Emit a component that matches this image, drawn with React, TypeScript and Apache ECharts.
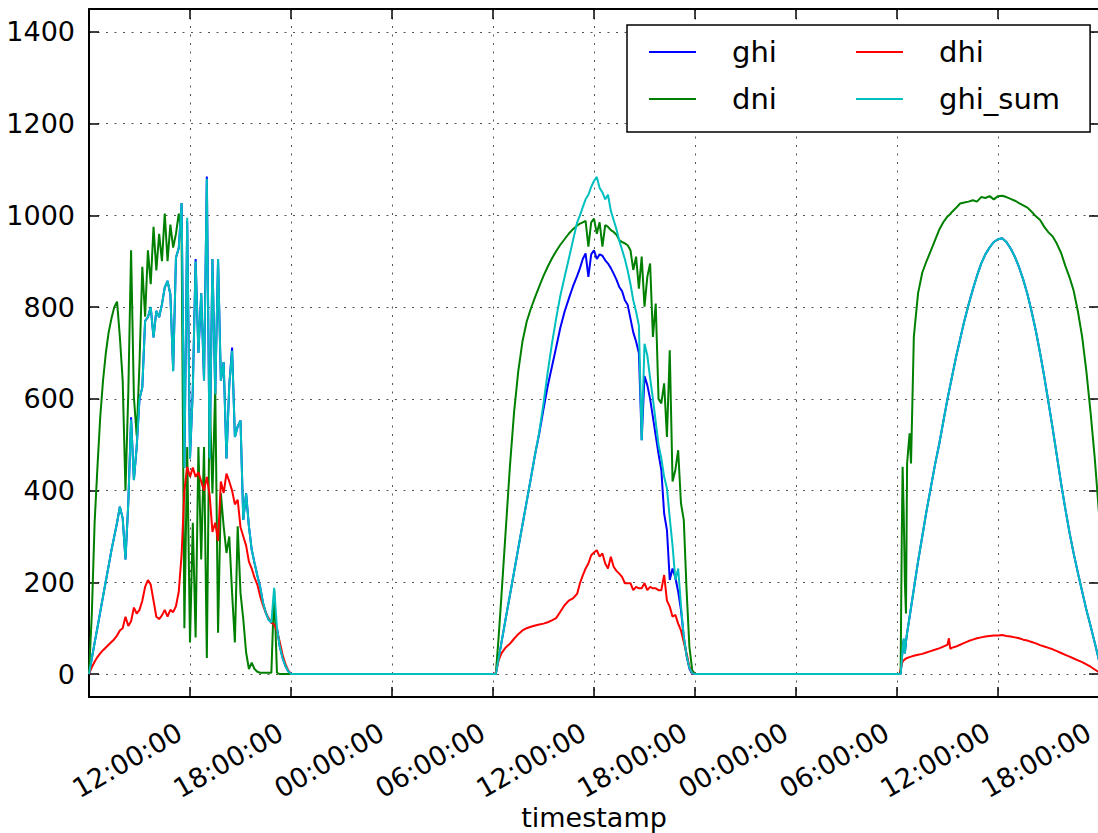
import React, { useEffect, useRef } from "react";
import * as echarts from "echarts";

// ---------- data (three consecutive days; times are local clock times) ----------
const day1Times = [
  "06:00","06:10","06:20","06:30","06:40","06:50",
  "07:00","07:10","07:20","07:30","07:40","07:50",
  "08:00","08:10","08:20","08:30","08:40","08:50",
  "09:00","09:10","09:20","09:30","09:40","09:50",
  "10:00","10:10","10:20","10:30","10:40","10:50",
  "11:00","11:10","11:20","11:30","11:40","11:50",
  "12:00","12:10","12:20","12:30","12:40","12:50",
  "13:00","13:10","13:20","13:30","13:40","13:50",
  "14:00","14:10","14:20","14:30","14:40","14:50",
  "15:00","15:10","15:20","15:30","15:40","15:50",
  "16:00","16:10","16:20","16:30","16:40","16:50",
  "17:00","17:10","17:20","17:30","17:40","17:50",
  "18:00","18:10",
];
const day1Ghi = [
  0, 34, 68, 101, 135, 169,
  203, 236, 270, 300, 330, 365,
  340, 250, 372, 560, 423, 495,
  600, 625, 770, 778, 800, 734,
  792, 778, 806, 843, 857, 828,
  662, 908, 929, 1027, 450, 987,
  470, 620, 905, 700, 830, 640,
  1085, 470, 905, 610, 905, 640,
  680, 470, 630, 712, 517, 540,
  553, 336, 394, 322, 271, 242,
  215, 190, 156, 134, 119, 112,
  108, 100, 60, 35, 18, 6,
  0, 0,
];
const day1GhiSum = [
  0, 34, 68, 101, 135, 169,
  203, 236, 270, 300, 330, 365,
  340, 250, 372, 555, 423, 495,
  600, 625, 770, 778, 800, 734,
  792, 778, 806, 843, 857, 828,
  660, 908, 929, 1027, 450, 995,
  470, 620, 900, 700, 830, 640,
  1080, 470, 905, 610, 905, 640,
  680, 470, 630, 705, 517, 540,
  553, 336, 394, 322, 271, 242,
  215, 190, 156, 134, 119, 112,
  188, 100, 60, 35, 18, 6,
  0, 0,
];
const day1Dni = [
  0, 130, 330, 450, 560, 640,
  700, 745, 775, 800, 812, 735,
  641, 400, 612, 924, 604, 520,
  677, 888, 779, 924, 850, 975,
  880, 960, 900, 1004, 900, 980,
  930, 960, 1004, 960, 100, 495,
  69, 330, 80, 495, 250, 495,
  35, 611, 394, 626, 90, 394,
  322, 264, 300, 177, 69, 322,
  177, 119, 47, 11, 25, 11,
  5, 3, 3, 3, 3, 3,
  184, 3, 0, 0, 0, 0,
  0, 0,
];
const day1Dhi = [
  0, 15, 27, 37, 45, 52,
  58, 64, 70, 76, 84, 95,
  100, 125, 105, 115, 145, 132,
  140, 160, 190, 205, 195, 160,
  125, 120, 128, 140, 125, 140,
  135, 148, 180, 260, 400, 452,
  430, 450, 430, 440, 420, 400,
  430, 390, 310, 330, 290, 420,
  395, 437, 420, 400, 370, 380,
  320, 300, 280, 245, 230, 210,
  195, 170, 150, 134, 122, 112,
  108, 95, 70, 42, 22, 8,
  0, 0,
];

const day2Times = [
  "06:00","06:10","06:20","06:30","06:45","07:00","07:15","07:30","07:45",
  "08:00","08:15","08:30","08:45","09:00","09:15","09:30","09:45",
  "10:00","10:15","10:30","10:45",
  "11:00","11:10","11:20","11:30","11:40","11:50",
  "12:00","12:10","12:20","12:30","12:40","12:50",
  "13:00","13:10","13:20","13:30","13:40","13:50",
  "14:00","14:10","14:20","14:30","14:40","14:50",
  "15:00","15:10","15:20","15:30","15:40","15:50",
  "16:00","16:10","16:20","16:30","16:40","16:50",
  "17:00","17:10","17:20","17:30","17:40","17:50",
  "18:00","18:10",
];
const day2Ghi = [
  0, 0, 34, 68, 120, 171, 222, 274, 325,
  376, 427, 479, 525, 578, 628, 670, 712,
  755, 790, 818, 845,
  868, 885, 905, 917, 866, 915,
  924, 905, 915, 912, 902, 895,
  885, 873, 860, 844, 835, 815,
  805, 775, 745, 725, 700, 510,
  650, 630, 600, 560, 520, 480,
  445, 350, 314, 205, 230, 210,
  180, 140, 81, 40, 12, 0,
  0, 0,
];
const day2GhiSum = [
  0, 0, 34, 68, 120, 171, 222, 274, 325,
  376, 427, 479, 528, 590, 658, 720, 775,
  825, 865, 905, 945,
  985, 1000, 1018, 1035, 1045, 1062,
  1075, 1084, 1060, 1050, 1035, 1045,
  1010, 990, 970, 945, 925, 905,
  880, 850, 815, 790, 760, 510,
  720, 695, 645, 600, 550, 500,
  470, 430, 405, 340, 280, 205,
  230, 150, 81, 40, 14, 2,
  0, 0,
];
const day2Dni = [
  0, 0, 80, 170, 310, 450, 570, 660, 725,
  768, 797, 822, 845, 868, 888, 906, 922,
  936, 948, 960, 970,
  978, 982, 985, 988, 932, 985,
  993, 960, 985, 932, 979, 975,
  968, 964, 958, 946, 942, 939,
  935, 924, 881, 910, 840, 910,
  801, 866, 895, 735, 808, 600,
  590, 634, 517, 706, 420, 445,
  488, 372, 336, 183, 60, 9,
  0, 0,
];
const day2Dhi = [
  0, 2, 30, 45, 58, 66, 77, 87, 95,
  100, 103, 106, 108, 110, 113, 117, 122,
  136, 150, 160, 165,
  175, 198, 215, 230, 241, 259,
  265, 270, 256, 263, 241, 230,
  256, 234, 225, 219, 212, 198,
  198, 198, 183, 190, 187, 187,
  198, 183, 190, 187, 187, 183,
  183, 216, 160, 147, 125, 129,
  110, 95, 70, 45, 16, 1,
  0, 0,
];

const day3Times = [
  "06:00","06:10","06:13","06:17","06:20","06:24","06:28","06:32","06:36","06:40","06:45","06:50",
  "07:00","07:15","07:30","07:45","08:00","08:15","08:30","08:45","09:00",
  "09:05","09:10",
  "09:15","09:30","09:45","10:00","10:15","10:30","10:45",
  "11:00","11:15","11:30","11:45","12:00","12:15","12:30","12:45",
  "13:00","13:15","13:30","13:45","14:00","14:15","14:30","14:45",
  "15:00","15:15","15:30","15:45","16:00","16:15","16:30","16:45",
  "17:00","17:15","17:30","17:45","18:00",
];
const day3Ghi = [
  0, 0, 0, 30, 55, 75, 45, 70, 90, 105, 125, 145,
  185, 245, 300, 355, 405, 455, 500, 550, 600,
  615, 630,
  645, 690, 730, 770, 805, 838, 868,
  895, 915, 930, 942, 948, 950, 942, 928,
  910, 887, 860, 828, 790, 748, 700, 648,
  592, 535, 475, 415, 360, 308, 262, 220,
  180, 140, 105, 68, 30,
];
const day3GhiSum = [
  0, 0, 0, 30, 55, 78, 45, 70, 90, 105, 125, 145,
  185, 245, 300, 355, 405, 455, 500, 550, 600,
  615, 630,
  645, 690, 730, 770, 805, 838, 868,
  895, 915, 930, 942, 948, 950, 942, 928,
  910, 887, 860, 828, 790, 748, 700, 648,
  592, 535, 475, 415, 360, 308, 262, 220,
  180, 140, 105, 68, 30,
];
const day3Dni = [
  0, 0, 9, 300, 452, 350, 200, 132, 459, 490, 525, 459,
  735, 830, 875, 900, 922, 945, 968, 985, 998,
  1000, 1003,
  1007, 1016, 1026, 1028, 1030, 1033, 1030,
  1040, 1038, 1042, 1035, 1042, 1043, 1040, 1036,
  1032, 1027, 1022, 1017, 1008, 998, 990, 975,
  963, 954, 938, 918, 890, 865, 835, 790,
  735, 660, 570, 470, 350,
];
const day3Dhi = [
  0, 0, 10, 22, 27, 30, 32, 34, 35, 36, 37, 38,
  40, 42, 44, 47, 50, 53, 56, 60, 64,
  78, 55,
  57, 60, 64, 68, 72, 75, 78,
  80, 82, 83, 84, 84, 85, 83, 82,
  80, 78, 75, 73, 70, 67, 63, 60,
  57, 54, 50, 46, 42, 38, 34, 30,
  26, 21, 16, 10, 4,
];

const xTickHours = [12, 18, 0, 6, 12, 18, 0, 6, 12, 18];
const yTickValues = [0, 200, 400, 600, 800, 1000, 1200, 1400];
const seriesNames = ["ghi", "dni", "dhi", "ghi_sum"];
const seriesColors = ["#0000ff", "#008000", "#ff0000", "#00bfbf"];
const legendOrder = ["ghi", "dhi", "dni", "ghi_sum"];

// ---------- helpers ----------
const FONT = "DejaVu Sans";
const days = [
  { offset: 0, times: day1Times, ghi: day1Ghi, dni: day1Dni, dhi: day1Dhi, ghi_sum: day1GhiSum },
  { offset: 24, times: day2Times, ghi: day2Ghi, dni: day2Dni, dhi: day2Dhi, ghi_sum: day2GhiSum },
  { offset: 48, times: day3Times, ghi: day3Ghi, dni: day3Dni, dhi: day3Dhi, ghi_sum: day3GhiSum },
];
const toHours = (offset: number, t: string) => {
  const [h, m] = t.split(":").map(Number);
  return offset + h + m / 60;
};
const buildSeries = (key: string) =>
  days.flatMap((d: any) => d.times.map((t: string, i: number) => [toHours(d.offset, t), d[key][i]]));
const pad2 = (n: number) => String(n).padStart(2, "0");

const X_MIN = 6;
const X_MAX = 66;

const gridLine = { color: "#555", width: 1, type: [2, 6.5] as number[] };
const spine = { color: "#000", width: 2 };
const tick = { show: true, inside: true, length: 10, lineStyle: { color: "#000", width: 1.5 } };

export default function App() {
  const ref = useRef<HTMLDivElement>(null);
  useEffect(() => {
    if (!ref.current) return;
    const chart = echarts.init(ref.current, null, { renderer: "svg" });
    const option: any = {
      animation: false,
      backgroundColor: "#ffffff",
      textStyle: { fontFamily: FONT },
      grid: {
        left: 89,
        right: 2,
        top: 9,
        bottom: 136,
        containLabel: false,
        outerBoundsMode: "none",
      },
      legend: {
        data: legendOrder,
        left: 627,
        top: 25,
        width: 412,
        orient: "horizontal",
        padding: [6, 30, 12, 22],
        itemGap: 5,
        itemWidth: 47,
        itemHeight: 2,
        icon: "rect",
        selectedMode: false,
        backgroundColor: "#ffffff",
        borderColor: "#000000",
        borderWidth: 1.5,
        borderRadius: 0,
        textStyle: {
          fontFamily: FONT,
          fontSize: 29,
          color: "#000",
          width: 119,
          lineHeight: 42,
          padding: [0, 0, 0, 31],
        },
      },
      xAxis: [
        {
          type: "value",
          position: "bottom",
          min: X_MIN,
          max: X_MAX,
          interval: 6,
          z: 3,
          name: "timestamp",
          nameLocation: "middle",
          nameGap: 107,
          nameMoveOverlap: false,
          nameTextStyle: { fontFamily: FONT, fontSize: 27, color: "#000" },
          axisLine: { show: true, onZero: false, lineStyle: spine },
          axisTick: tick,
          axisLabel: {
            rotate: 30,
            margin: 27,
            padding: [0, 12, 0, 0],
            fontFamily: FONT,
            fontSize: 27,
            color: "#000",
            showMinLabel: true,
            showMaxLabel: true,
            formatter: (v: number) => {
              if (v <= X_MIN) return "";
              const idx = Math.round((v - 12) / 6);
              const h = xTickHours[idx];
              return h === undefined ? "" : `${pad2(h)}:00:00`;
            },
          },
          splitLine: { show: true, lineStyle: gridLine },
        },
        {
          type: "value",
          position: "top",
          min: X_MIN,
          max: X_MAX,
          interval: 6,
          z: 3,
          axisLine: { show: true, onZero: false, lineStyle: spine },
          axisTick: tick,
          axisLabel: { show: false },
          splitLine: { show: false },
        },
      ],
      yAxis: [
        {
          type: "value",
          position: "left",
          min: -50,
          max: 1450,
          splitNumber: 7,
          z: 3,
          axisLine: { show: true, onZero: false, lineStyle: spine },
          axisTick: tick,
          axisLabel: {
            margin: 14,
            fontFamily: FONT,
            fontSize: 27,
            color: "#000",
            formatter: (v: number) => (yTickValues.includes(v) ? String(v) : ""),
          },
          splitLine: { show: true, lineStyle: gridLine },
        },
        {
          type: "value",
          position: "right",
          min: -50,
          max: 1450,
          splitNumber: 7,
          z: 3,
          axisLine: { show: true, onZero: false, lineStyle: spine },
          axisTick: tick,
          axisLabel: { show: false },
          splitLine: { show: false },
        },
      ],
      series: seriesNames.map((name, i) => ({
        name,
        type: "line",
        xAxisIndex: 0,
        yAxisIndex: 0,
        data: buildSeries(name),
        showSymbol: false,
        symbol: "none",
        silent: true,
        emphasis: { disabled: true },
        lineStyle: { color: seriesColors[i], width: 2 },
        itemStyle: { color: seriesColors[i] },
      })),
    };
    chart.setOption(option);
    return () => chart.dispose();
  }, []);
  return (
    <div
      style={{
        position: "fixed",
        left: 0,
        top: 0,
        width: 1098,
        height: 833,
        overflow: "hidden",
        background: "#fff",
      }}
    >
      <div ref={ref} style={{ width: 1101, height: 833 }} />
    </div>
  );
}
